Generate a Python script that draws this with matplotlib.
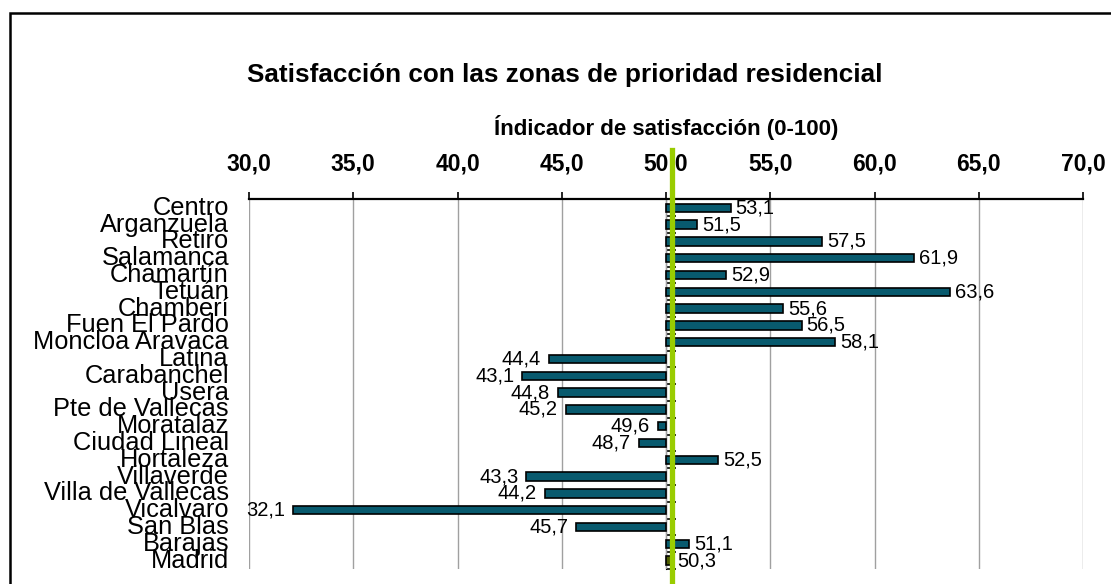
import numpy as np
import matplotlib.pyplot as plt
from matplotlib.patches import Rectangle

plt.rcParams['font.family'] = ['Liberation Sans', 'DejaVu Sans']

distritos = ['Centro', 'Arganzuela', 'Retiro', 'Salamanca', 'Chamartín', 'Tetuán',
             'Chamberí', 'Fuen El Pardo', 'Moncloa Aravaca', 'Latina', 'Carabanchel',
             'Usera', 'Pte de Vallecas', 'Moratalaz', 'Ciudad Lineal', 'Hortaleza',
             'Villaverde', 'Villa de Vallecas', 'Vicalvaro', 'San Blas', 'Barajas',
             'Madrid']
valores = [53.1, 51.5, 57.5, 61.9, 52.9, 63.6, 55.6, 56.5, 58.1, 44.4, 43.1,
           44.8, 45.2, 49.6, 48.7, 52.5, 43.3, 44.2, 32.1, 45.7, 51.1, 50.3]
base = 50.0
media_madrid = 50.3
xticks = [30, 35, 40, 45, 50, 55, 60, 65, 70]

W, H = 1111, 584
fig = plt.figure(figsize=(W / 100, H / 100), dpi=100)
ax = fig.add_axes([249 / W, 15 / H, 834 / W, 369.5 / H])

y = np.arange(len(distritos))
colores = ['#085a6e'] * (len(distritos) - 1) + ['#4d5b00']
ax.barh(y, np.array(valores) - base, left=base, height=0.5, color=colores,
        edgecolor='black', linewidth=1.2, zorder=3)

for yi, v in zip(y, valores):
    txt = f'{v:.1f}'.replace('.', ',')
    if v >= base:
        ax.annotate(txt, (v, yi), xytext=(5, 0), textcoords='offset pixels',
                    ha='left', va='center', fontsize=14.5, zorder=5)
    else:
        ax.annotate(txt, (v, yi), xytext=(-8, 0), textcoords='offset pixels',
                    ha='right', va='center', fontsize=14.5, zorder=5)

# category names to the left of the plot area
for yi, name in zip(y, distritos):
    ax.text(-0.024, yi, name, transform=ax.get_yaxis_transform(),
            ha='right', va='center', fontsize=18.3)

ax.set_xlim(30, 70)
ax.set_ylim(len(distritos) - 0.5, -0.5)
ax.xaxis.tick_top()
ax.set_xticks(xticks)
ax.set_xticklabels([f'{t:.1f}'.replace('.', ',') for t in xticks],
                   fontsize=16.5, fontweight='bold')
ax.tick_params(axis='x', length=5, width=1.2, pad=12)
ax.set_yticks([])
ax.grid(axis='x', color='#a0a0a0', linewidth=1, zorder=0)
for s in ['left', 'right', 'bottom']:
    ax.spines[s].set_visible(False)
ax.spines['top'].set_linewidth(1.6)

# vertical axis at the base value with boundary ticks
sec = ax.secondary_yaxis(0.5)
sec.set_yticks(np.arange(len(distritos) + 1) - 0.5)
sec.set_yticklabels([])
sec.tick_params(length=7, width=1.2)
sec.spines['left'].set_linewidth(1.6)

ax.axvline(media_madrid, ymin=-0.05, ymax=1.135, color='#99cc00',
           linewidth=3.8, zorder=6, clip_on=False)

fig.text(565 / W, 1 - 75 / H, 'Satisfacción con las zonas de prioridad residencial',
         ha='center', va='center', fontsize=18.8, fontweight='bold')
fig.text(666 / W, 1 - 127 / H, 'Índicador de satisfacción (0-100)',
         ha='center', va='center', fontsize=16, fontweight='bold')

fig.patches.append(Rectangle((10 / W, -0.05), 1.2, 1 - 13 / H + 0.05,
                             transform=fig.transFigure, fill=False,
                             edgecolor='black', linewidth=1.8))

fig.savefig('out.png', dpi=100)
